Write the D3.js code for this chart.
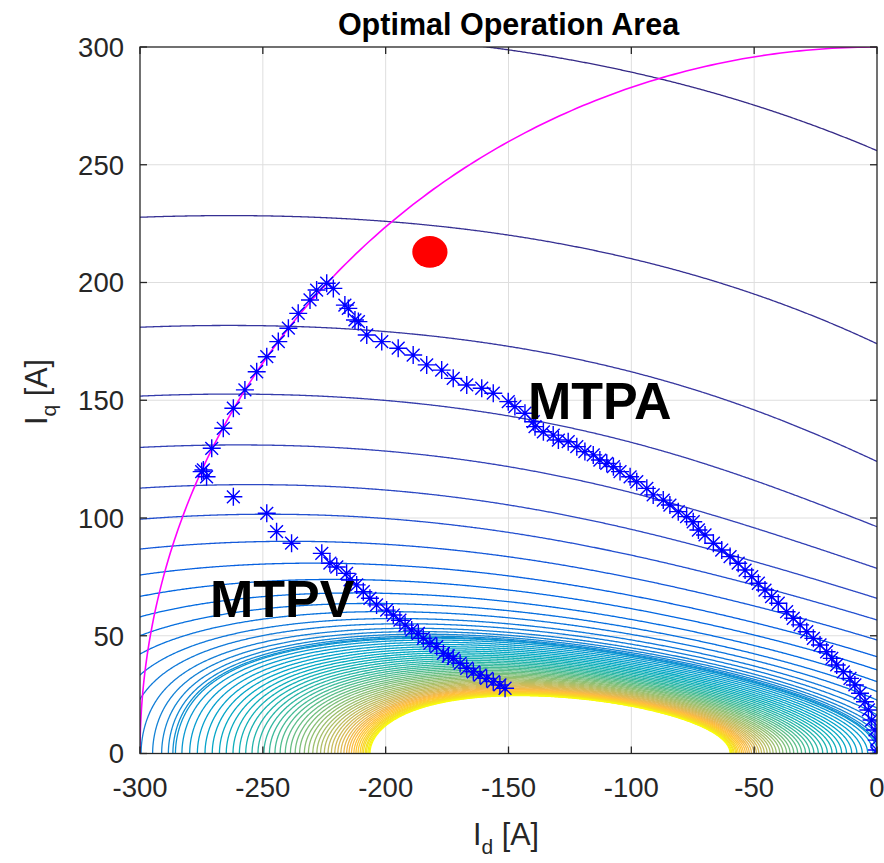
<!DOCTYPE html>
<html><head><meta charset="utf-8">
<script src="https://cdn.jsdelivr.net/npm/d3@7"></script>
<style>body{margin:0;background:#fff}text{font-family:"Liberation Sans",Arial,Helvetica,sans-serif}</style>
</head><body>
<svg id="chart" width="884" height="863"></svg>
<script>
// Axis ticks
const xTicks=[-300,-250,-200,-150,-100,-50,0];
const yTicks=[0,50,100,150,200,250,300];

// Operating trajectory [Id, Iq] in A
const mtpa=[[-224.0,199.7],[-221.3,197.5],[-216.6,190.4],[-215.2,189.0],[-212.5,184.1],[-211.1,183.4],[-207.7,177.7],[-201.6,174.9],[-194.9,172.1],[-188.8,169.2],[-183.3,165.0],[-177.2,162.8],[-172.5,159.3],[-167.0,156.5],[-160.9,155.1],[-156.2,153.0],[-150.1,149.4],[-147.4,147.3],[-143.3,144.5],[-139.9,140.9],[-139.2,138.8],[-135.8,136.6],[-131.8,135.2],[-129.7,133.1],[-125.7,132.4],[-122.2,130.3],[-118.9,128.2],[-115.5,126.8],[-112.8,124.6],[-110.0,123.2],[-107.3,121.8],[-104.6,119.7],[-100.5,117.5],[-97.8,115.4],[-93.7,112.6],[-91.1,109.8],[-87.0,107.6],[-84.3,105.5],[-80.9,102.7],[-77.5,100.6],[-74.8,98.4],[-72.7,94.9],[-70.0,92.8],[-66.6,89.3],[-63.2,86.4],[-59.8,83.6],[-56.5,80.8],[-53.7,77.9],[-51.0,75.1],[-48.3,72.3],[-45.6,69.4],[-42.9,66.6],[-40.2,63.8],[-36.8,60.2],[-34.1,57.4],[-31.3,54.6],[-28.6,51.7],[-25.9,48.9],[-23.2,46.1],[-20.5,43.2],[-18.4,40.4],[-16.4,37.6],[-13.7,34.7],[-11.0,31.9],[-9.0,29.1],[-6.9,25.6],[-4.9,22.0],[-3.5,18.5],[-2.2,14.2],[-0.8,10.0],[-0.1,5.7],[0,1.5],[0,0]];
const limitArc=[[-228.1,196.8],[-230.8,192.6],[-235.6,186.9],[-239.6,180.6],[-243.7,174.9],[-248.4,168.5],[-252.5,162.1],[-257.3,154.4],[-262.0,146.6],[-266.1,138.1],[-270.8,129.6],[-274.2,120.4]];
const mtpv=[[-274.9,119.7],[-272.9,117.5],[-262.0,109.0],[-248.4,102.0],[-244.4,94.2],[-238.3,89.3],[-226.0,85.0],[-222.7,80.8],[-219.9,79.2],[-215.9,76.5],[-214.5,73.7],[-211.8,71.6],[-209.1,68.7],[-206.4,65.9],[-203.7,63.1],[-199.6,60.9],[-196.9,58.8],[-194.2,56.6],[-192.1,54.5],[-189.4,52.4],[-186.7,51.0],[-184.7,48.9],[-182.0,46.8],[-179.2,45.4],[-176.5,42.5],[-174.5,41.4],[-172.5,40.4],[-169.7,38.3],[-167.0,36.2],[-164.3,34.7],[-161.6,33.3],[-158.9,31.9],[-156.2,30.5],[-153.5,29.1],[-151.4,27.7]];
const operatingPoint=[-182,213];
const currentLimit=300;

// Speed contours: where each one meets the Id = 0 edge (Iq, A), then the Iq = 0 axis (Id, A)
const edgeCrossIq=[256,174,124,96.3,78.6,65.9,56.7,48.2,41.1,35.5,30.5,26.3,22.7,19.3,16.4,13.5,11.0,8.6,6.3,4.1,2.0];
const axisCrossId=[-1.6,-3.8,-6.0,-8.2,-10.3,-12.4,-14.4,-16.4,-18.3,-20.2,-22.1,-23.9,-25.7,-27.4,-29.1,-30.7,-32.3,-33.9,-35.4,-36.8,-38.3,-39.6,-41.0,-42.3,-43.5,-44.7,-45.9,-47.0,-48.1,-49.1,-50.1,-51.1,-52.0,-52.8,-53.6,-54.4,-55.1,-55.8,-56.5,-57.1,-57.6,-58.2,-58.6,-59.1,-59.5,-59.8];

// Normalised flux-linkage map of the machine
const flux={psiPM:129.7,shiftMax:134.0,shiftWidth:69.4,ld:1.028,lq:3.165,qSat:671.8,dCurve:0.063};
function fluxMag(id,iq){
  const q=iq/flux.shiftWidth;
  const id0=-flux.psiPM-flux.shiftMax*(1-Math.exp(-q*q));
  const d=id-id0;
  const psiD=flux.ld*d*(1+flux.dCurve*d/100);
  const psiQ=flux.lq*iq/(1+Math.abs(iq)/flux.qSat);
  return Math.hypot(psiD,psiQ);
}

const parula=[[0.2081,0.1663,0.5292],[0.2116,0.1898,0.5777],[0.2123,0.2138,0.6270],[0.2081,0.2386,0.6771],[0.1959,0.2645,0.7279],[0.1707,0.2919,0.7792],[0.1253,0.3242,0.8303],[0.0591,0.3598,0.8683],[0.0117,0.3875,0.8820],[0.0060,0.4086,0.8828],[0.0165,0.4266,0.8786],[0.0329,0.4430,0.8720],[0.0498,0.4586,0.8641],[0.0629,0.4737,0.8554],[0.0723,0.4887,0.8467],[0.0779,0.5040,0.8384],[0.0793,0.5200,0.8312],[0.0749,0.5375,0.8263],[0.0641,0.5570,0.8240],[0.0488,0.5772,0.8228],[0.0343,0.5966,0.8199],[0.0265,0.6137,0.8135],[0.0239,0.6287,0.8038],[0.0231,0.6418,0.7913],[0.0228,0.6535,0.7768],[0.0267,0.6642,0.7607],[0.0384,0.6743,0.7436],[0.0590,0.6838,0.7254],[0.0843,0.6928,0.7062],[0.1133,0.7015,0.6859],[0.1453,0.7098,0.6646],[0.1801,0.7177,0.6424],[0.2178,0.7250,0.6193],[0.2586,0.7317,0.5954],[0.3022,0.7376,0.5712],[0.3482,0.7424,0.5473],[0.3953,0.7459,0.5244],[0.4420,0.7481,0.5033],[0.4871,0.7491,0.4840],[0.5300,0.7491,0.4661],[0.5709,0.7485,0.4494],[0.6099,0.7473,0.4337],[0.6473,0.7456,0.4188],[0.6834,0.7435,0.4044],[0.7184,0.7411,0.3905],[0.7525,0.7384,0.3768],[0.7858,0.7356,0.3633],[0.8185,0.7327,0.3498],[0.8507,0.7299,0.3360],[0.8824,0.7274,0.3217],[0.9139,0.7258,0.3063],[0.9450,0.7261,0.2886],[0.9739,0.7314,0.2666],[0.9938,0.7455,0.2403],[0.9990,0.7653,0.2164],[0.9955,0.7861,0.1967],[0.9880,0.8066,0.1794],[0.9789,0.8271,0.1633],[0.9697,0.8481,0.1475],[0.9626,0.8705,0.1309],[0.9589,0.8949,0.1132],[0.9598,0.9218,0.0948],[0.9661,0.9514,0.0755],[0.9763,0.9831,0.0538]];
function parulaColor(t){t=Math.max(0,Math.min(1,t));const f=t*63,i=Math.min(62,Math.floor(f)),u=f-i;const a=parula[i],b=parula[i+1];return d3.rgb(255*(a[0]+(b[0]-a[0])*u),255*(a[1]+(b[1]-a[1])*u),255*(a[2]+(b[2]-a[2])*u)).formatHex();}

const svg=d3.select("#chart");
const L=140,R=877,T=47,B=753.5;
const x=d3.scaleLinear().domain([-300,0]).range([L,R]);
const y=d3.scaleLinear().domain([0,300]).range([B,T]);
svg.append("defs").append("clipPath").attr("id","plotClip").append("rect").attr("x",L).attr("y",T).attr("width",R-L).attr("height",B-T);

// grid
const grid=svg.append("g").attr("stroke","#dedede").attr("stroke-width",1);
xTicks.slice(1,-1).forEach(v=>grid.append("line").attr("x1",x(v)).attr("x2",x(v)).attr("y1",T).attr("y2",B));
yTicks.slice(1,-1).forEach(v=>grid.append("line").attr("y1",y(v)).attr("y2",y(v)).attr("x1",L).attr("x2",R));

const plotArea=svg.append("g").attr("clip-path","url(#plotClip)");

// contour levels from the crossing points
const levels=[...edgeCrossIq.map(iq=>fluxMag(0,iq)),...axisCrossId.map(id=>fluxMag(id,0))];
const step=0.5,id0=-320,iq0=-20,nx=681,ny=681;
const field=new Float64Array(nx*ny);
for(let j=0;j<ny;j++)for(let i=0;i<nx;i++)field[j*nx+i]=fluxMag(id0+i*step,iq0+j*step);
const toPx=d3.geoTransform({point:function(gx,gy){this.stream.point(x(id0+(gx-0.5)*step),y(iq0+(gy-0.5)*step));}});
const path=d3.geoPath(toPx);
const contourGen=d3.contours().size([nx,ny]);
const n=levels.length;
levels.forEach((lv,k)=>{plotArea.append("path").attr("d",path(contourGen.contour(field,lv))).attr("fill","none").attr("stroke",parulaColor(k/(n-1))).attr("stroke-width",1.3);});

// current limit circle
const arc=d3.range(0,90.01,0.5).map(a=>[-currentLimit*Math.cos(a*Math.PI/180),currentLimit*Math.sin(a*Math.PI/180)]);
plotArea.append("path").attr("d",d3.line().x(d=>x(d[0])).y(d=>y(d[1]))(arc)).attr("fill","none").attr("stroke","#ff00ff").attr("stroke-width",1.6);

// trajectory markers
const star="M0,-9V9M-9,0H9M-6.4,-6.4L6.4,6.4M-6.4,6.4L6.4,-6.4";
const mk=plotArea.append("g").attr("stroke","#0000ff").attr("stroke-width",1.4).attr("fill","none");
[...mtpa,...limitArc,...mtpv].forEach(p=>mk.append("path").attr("d",star).attr("transform",`translate(${x(p[0])},${y(p[1])})`));
plotArea.append("ellipse").attr("cx",x(operatingPoint[0])).attr("cy",y(operatingPoint[1])).attr("rx",17.6).attr("ry",15.9).attr("fill","#ff0000");

svg.append("text").attr("x",528).attr("y",419).attr("font-size",52).attr("font-weight","bold").text("MTPA");
svg.append("text").attr("x",210).attr("y",617).attr("font-size",52).attr("font-weight","bold").text("MTPV");

// axes box and ticks
const ax=svg.append("g").attr("fill","none").attr("stroke","#262626").attr("stroke-width",1.3);
ax.append("rect").attr("x",L).attr("y",T).attr("width",R-L).attr("height",B-T);
xTicks.forEach(v=>{ax.append("line").attr("x1",x(v)).attr("x2",x(v)).attr("y1",B).attr("y2",B-7);ax.append("line").attr("x1",x(v)).attr("x2",x(v)).attr("y1",T).attr("y2",T+7);});
yTicks.forEach(v=>{ax.append("line").attr("y1",y(v)).attr("y2",y(v)).attr("x1",L).attr("x2",L+7);ax.append("line").attr("y1",y(v)).attr("y2",y(v)).attr("x1",R).attr("x2",R-7);});
const tl=svg.append("g").attr("fill","#262626").attr("font-size",27.5);
xTicks.forEach(v=>tl.append("text").attr("x",x(v)).attr("y",797).attr("text-anchor","middle").text(v));
yTicks.forEach(v=>tl.append("text").attr("x",124).attr("y",y(v)+9.8).attr("text-anchor","end").text(v));
svg.append("text").attr("x",508.5).attr("y",35).attr("text-anchor","middle").attr("font-size",30.5).attr("font-weight","bold").text("Optimal Operation Area");
const xl=svg.append("text").attr("x",506).attr("y",845).attr("text-anchor","middle").attr("font-size",30.5).attr("fill","#262626");
xl.append("tspan").text("I");xl.append("tspan").attr("dy",9).attr("font-size",21).text("d");xl.append("tspan").attr("dy",-9).text(" [A]");
const yl=svg.append("text").attr("transform","translate(46.7,392) rotate(-90)").attr("text-anchor","middle").attr("font-size",30.5).attr("fill","#262626");
yl.append("tspan").text("I");yl.append("tspan").attr("dy",9).attr("font-size",21).text("q");yl.append("tspan").attr("dy",-9).text(" [A]");
</script></body></html>
